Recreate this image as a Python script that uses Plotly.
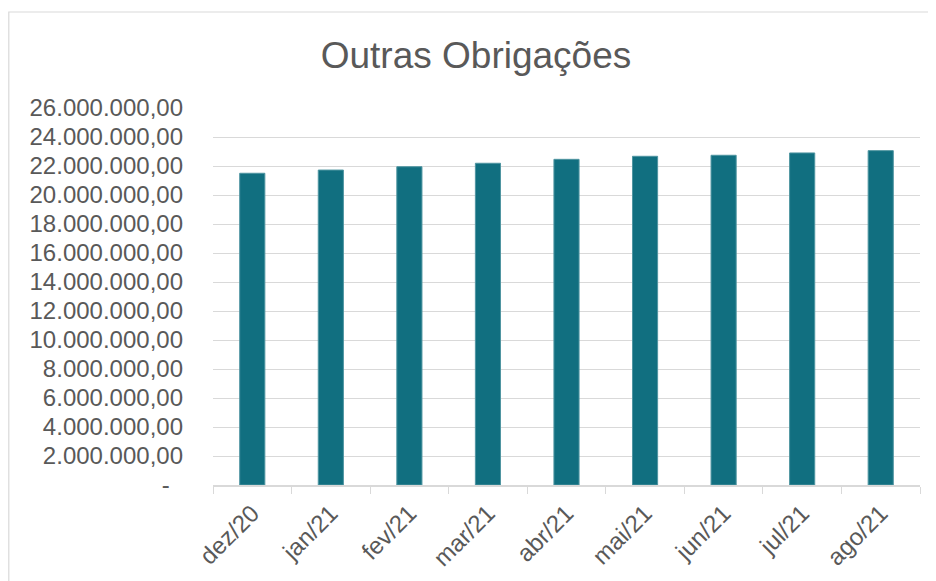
import plotly.graph_objects as go

categories = ["dez/20", "jan/21", "fev/21", "mar/21", "abr/21", "mai/21", "jun/21", "jul/21", "ago/21"]
values = [21500000, 21720000, 21950000, 22190000, 22460000, 22670000, 22740000, 22900000, 23060000]
tick_vals = list(range(0, 26000001, 2000000))
tick_text = ["-\u00a0\u00a0"] + ["{:,.2f}".format(v).replace(",", "X").replace(".", ",").replace("X", ".") for v in tick_vals[1:]]

# page has an 8px body margin; figure is sized so it fits the 936x581 window
OFF = 8
W, H = 936 - OFF, 581 - OFF
ml, mr, mt, mb = 213 - OFF, 16, 108 - OFF, 96
pw, ph = W - ml - mr, H - mt - mb

fig = go.Figure(go.Bar(
    x=categories, y=values,
    marker=dict(color="#116f80", line=dict(color="#4f95a1", width=1)),
    width=0.32,
))

def px2x(px):
    return (px - OFF - ml) / pw

def px2y(py):
    return (H - mb - (py - OFF)) / ph

fig.update_layout(
    width=W, height=H,
    margin=dict(l=ml, r=mr, t=mt, b=mb, autoexpand=False),
    paper_bgcolor="white", plot_bgcolor="white",
    font=dict(family="Liberation Sans, Arial, sans-serif", color="#595959", size=24),
    title=dict(text="Outras Obrigações", x=(476 - OFF) / W, xanchor="center", y=1 - (55 - OFF) / H, yanchor="middle",
               font=dict(size=37, color="#595959"), automargin=False),
    showlegend=False,
    xaxis=dict(
        type="category", tickangle=-45, showgrid=False, automargin=False,
        showline=True, linecolor="#d9d9d9", linewidth=1.5,
        ticks="outside", tickson="boundaries", ticklen=7, tickcolor="#d9d9d9",
        ticklabelstandoff=3,
        tickfont=dict(size=24, color="#595959"),
    ),
    yaxis=dict(
        range=[0, 26000000], tickvals=tick_vals, ticktext=tick_text, automargin=False,
        showgrid=True, gridcolor="#d9d9d9", gridwidth=1.3,
        zeroline=False, showline=False, ticks="", ticklabelstandoff=29,
        tickfont=dict(size=24, color="#595959"),
    ),
    shapes=[dict(type="rect", xref="paper", yref="paper",
                 x0=px2x(OFF + 0.8), x1=px2x(950), y0=px2y(12), y1=px2y(600),
                 line=dict(color="#d9d9d9", width=1.2), fillcolor="rgba(0,0,0,0)", layer="below")],
)

fig.write_html("out.html")
